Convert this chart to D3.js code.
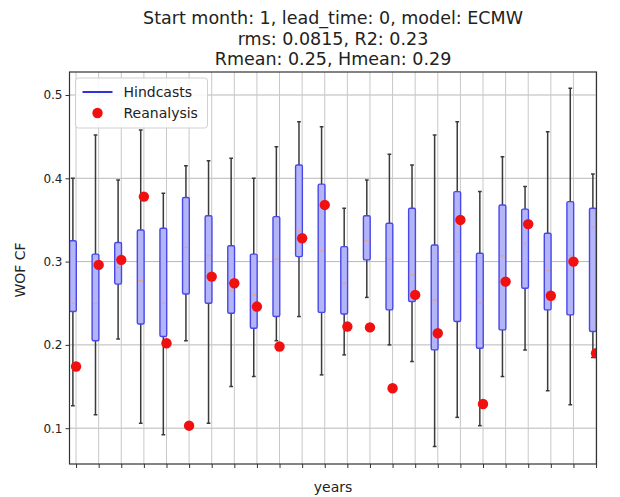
<!DOCTYPE html>
<html>
<head>
<meta charset="utf-8">
<script src="https://cdn.jsdelivr.net/npm/d3@7"></script>
<style>
  body { margin: 0; background: #fff; }
  text { font-family: "DejaVu Sans", sans-serif; fill: #222; }
</style>
</head>
<body>
<div id="chart"></div>
<script>
// box positions (one per hindcast year, no labels shown on the axis)
var years = [1, 2, 3, 4, 5, 6, 7, 8, 9, 10, 11, 12, 13, 14, 15, 16, 17, 18, 19, 20, 21, 22, 23, 24];

// hindcast distribution per year
var whiskerLow  = [0.127, 0.116, 0.207, 0.106, 0.092, 0.205, 0.106, 0.150, 0.162, 0.205, 0.234, 0.164,
                   0.188, 0.257, 0.200, 0.180, 0.078, 0.113, 0.103, 0.162, 0.194, 0.145, 0.128, 0.185];
var q1          = [0.240, 0.205, 0.273, 0.225, 0.210, 0.261, 0.250, 0.238, 0.220, 0.234, 0.306, 0.239,
                   0.237, 0.302, 0.242, 0.252, 0.194, 0.228, 0.196, 0.218, 0.268, 0.242, 0.236, 0.216];
var median      = [0.250, 0.250, 0.293, 0.277, 0.250, 0.317, 0.307, 0.265, 0.260, 0.303, 0.337, 0.313,
                   0.274, 0.325, 0.303, 0.284, 0.254, 0.312, 0.250, 0.307, 0.322, 0.289, 0.307, 0.341];
var q3          = [0.325, 0.309, 0.323, 0.338, 0.340, 0.377, 0.355, 0.319, 0.309, 0.354, 0.416, 0.393,
                   0.318, 0.355, 0.346, 0.364, 0.320, 0.384, 0.310, 0.368, 0.363, 0.334, 0.372, 0.364];
var whiskerHigh = [0.400, 0.452, 0.398, 0.458, 0.382, 0.415, 0.421, 0.424, 0.400, 0.438, 0.468, 0.462,
                   0.364, 0.398, 0.429, 0.416, 0.452, 0.468, 0.384, 0.426, 0.390, 0.456, 0.508, 0.405];

// reanalysis value per year
var reanalysis  = [0.174, 0.296, 0.302, 0.378, 0.202, 0.103, 0.282, 0.274, 0.246, 0.198, 0.328, 0.368,
                   0.222, 0.221, 0.148, 0.260, 0.214, 0.350, 0.129, 0.276, 0.345, 0.259, 0.300, 0.190];

var yTicks = [0.1, 0.2, 0.3, 0.4, 0.5];

var titleLines = ["Start month: 1, lead_time: 0, model: ECMW",
                  "rms: 0.0815, R2: 0.23",
                  "Rmean: 0.25, Hmean: 0.29"];

var svgWidth = 620, svgHeight = 497;
var margin = { top: 72, right: 23.5, bottom: 33, left: 69.5 };
var chartWidth = svgWidth - margin.left - margin.right;
var chartHeight = svgHeight - margin.top - margin.bottom;

var svg = d3.select("#chart").append("svg")
  .attr("width", svgWidth)
  .attr("height", svgHeight);

var rows = years.map(function(y, i) {
  return { year: y, lo: whiskerLow[i], q1: q1[i], med: median[i], q3: q3[i], hi: whiskerHigh[i], rea: reanalysis[i] };
});

var xScale = d3.scaleLinear().domain([0.71, 24.02]).range([0, chartWidth]);
var yScale = d3.scaleLinear().domain([0.057, 0.5276]).range([chartHeight, 0]);

var boxOffset = -0.14;
var boxW = xScale(0.3) - xScale(0);
var capW = boxW * 0.55;

var chartGroup = svg.append("g")
  .attr("transform", `translate(${margin.left}, ${margin.top})`);

svg.append("defs").append("clipPath").attr("id", "plotclip")
  .append("rect").attr("width", chartWidth).attr("height", chartHeight);

// grid
chartGroup.append("g").selectAll("line.hg")
  .data(yTicks).enter().append("line")
  .attr("x1", 0).attr("x2", chartWidth)
  .attr("y1", d => yScale(d)).attr("y2", d => yScale(d))
  .attr("stroke", "#b8b8b8").attr("stroke-width", 1);

chartGroup.append("g").selectAll("line.vg")
  .data(years).enter().append("line")
  .attr("x1", d => xScale(d)).attr("x2", d => xScale(d))
  .attr("y1", 0).attr("y2", chartHeight)
  .attr("stroke", "#c8c8c8").attr("stroke-width", 1);

// axes
var xAxis = d3.axisBottom(xScale).tickValues(years).tickFormat("").tickSize(4).tickSizeOuter(0);
var yAxis = d3.axisLeft(yScale).tickValues(yTicks).tickFormat(d3.format(".1f")).tickSize(4).tickSizeOuter(0);

var gx = chartGroup.append("g")
  .attr("transform", `translate(0, ${chartHeight})`)
  .call(xAxis);
var gy = chartGroup.append("g").call(yAxis);
[gx, gy].forEach(function(g) {
  g.select(".domain").remove();
  g.selectAll(".tick line").attr("stroke", "#333");
  g.selectAll(".tick text").attr("font-size", 12).attr("fill", "#333")
    .attr("font-family", "DejaVu Sans, sans-serif");
});

var plot = chartGroup.append("g").attr("clip-path", "url(#plotclip)");

var boxes = plot.selectAll("g.box").data(rows).enter().append("g");

// whiskers
boxes.append("line")
  .attr("x1", d => xScale(d.year + boxOffset)).attr("x2", d => xScale(d.year + boxOffset))
  .attr("y1", d => yScale(d.q3)).attr("y2", d => yScale(d.hi))
  .attr("stroke", "#3a3a3a").attr("stroke-width", 1.5);
boxes.append("line")
  .attr("x1", d => xScale(d.year + boxOffset)).attr("x2", d => xScale(d.year + boxOffset))
  .attr("y1", d => yScale(d.q1)).attr("y2", d => yScale(d.lo))
  .attr("stroke", "#3a3a3a").attr("stroke-width", 1.5);
// caps
["hi", "lo"].forEach(function(k) {
  boxes.append("line")
    .attr("x1", d => xScale(d.year + boxOffset) - capW / 2)
    .attr("x2", d => xScale(d.year + boxOffset) + capW / 2)
    .attr("y1", d => yScale(d[k])).attr("y2", d => yScale(d[k]))
    .attr("stroke", "#3a3a3a").attr("stroke-width", 1.5);
});
// box
boxes.append("rect")
  .attr("x", d => xScale(d.year + boxOffset) - boxW / 2)
  .attr("width", boxW)
  .attr("y", d => yScale(d.q3))
  .attr("height", d => yScale(d.q1) - yScale(d.q3))
  .attr("rx", 1.5)
  .attr("fill", "#b4b4f8")
  .attr("stroke", "#4848e8").attr("stroke-width", 1.4);
// median
boxes.append("line")
  .attr("x1", d => xScale(d.year + boxOffset) - boxW / 2 + 1)
  .attr("x2", d => xScale(d.year + boxOffset) + boxW / 2 - 1)
  .attr("y1", d => yScale(d.med)).attr("y2", d => yScale(d.med))
  .attr("stroke", "#e8a27a").attr("stroke-width", 1.2);

// reanalysis dots
plot.selectAll("circle.rea").data(rows).enter().append("circle")
  .attr("cx", d => xScale(d.year))
  .attr("cy", d => yScale(d.rea))
  .attr("r", 5.2)
  .attr("fill", "#f01010");

// frame
chartGroup.append("rect")
  .attr("width", chartWidth).attr("height", chartHeight)
  .attr("fill", "none").attr("stroke", "#333").attr("stroke-width", 1.2);

// legend
var legend = chartGroup.append("g").attr("transform", "translate(6, 6)");
legend.append("rect")
  .attr("width", 132).attr("height", 50).attr("rx", 3)
  .attr("fill", "#fff").attr("fill-opacity", 0.85)
  .attr("stroke", "#d0d0d0");
legend.append("line")
  .attr("x1", 7).attr("x2", 37).attr("y1", 14).attr("y2", 14)
  .attr("stroke", "#3030e0").attr("stroke-width", 2);
legend.append("text").attr("x", 48).attr("y", 19).attr("font-size", 14).text("Hindcasts");
legend.append("circle").attr("cx", 22).attr("cy", 35).attr("r", 5.2).attr("fill", "#f01010");
legend.append("text").attr("x", 48).attr("y", 40).attr("font-size", 14).text("Reanalysis");

// title
svg.selectAll("text.title").data(titleLines).enter().append("text")
  .attr("x", margin.left + chartWidth / 2)
  .attr("y", (d, i) => 24 + i * 20.5)
  .attr("text-anchor", "middle")
  .attr("font-size", 17.5)
  .text(d => d);

// axis labels
svg.append("text")
  .attr("x", margin.left + chartWidth / 2).attr("y", 492)
  .attr("text-anchor", "middle").attr("font-size", 14)
  .text("years");
svg.append("text")
  .attr("transform", "translate(25, 270) rotate(-90)")
  .attr("text-anchor", "middle").attr("font-size", 14)
  .text("WOF CF");
</script>
</body>
</html>
